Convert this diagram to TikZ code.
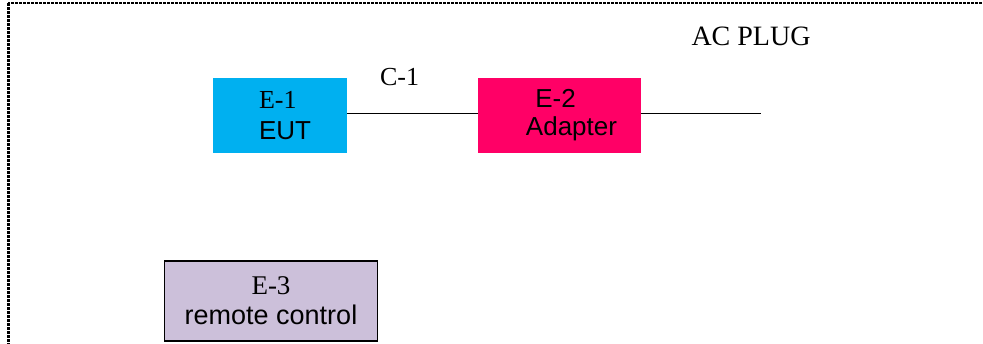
\documentclass[tikz,border=0pt]{standalone}
\usepackage{fontspec}
\setmainfont{Liberation Serif}
\setsansfont{Liberation Sans}
\usepackage{tikz}

\begin{document}
\begin{tikzpicture}[x=1pt,y=-1pt]
    \useasboundingbox (0,0) rectangle (983,343);
    \clip (0,0) rectangle (983,343);
    \begin{scope}[font=\fontsize{26}{31}\selectfont,
                  box/.style={rectangle,inner sep=0pt}]

    \draw [line width=2.5pt, dash pattern=on 2.6pt off 1.4pt] (8.3,3) rectangle (1010,370);

    \node [box, align=left, fill={rgb,255:red,0;green,176;blue,240},
           minimum width=134pt, minimum height=75pt] (eut) at (280,115.5)
          {\hspace*{10pt}E-1\\\hspace*{10pt}{\sffamily EUT}};
    \node [box, align=center, font=\fontsize{26}{28}\selectfont\sffamily,
           fill={rgb,255:red,255;green,0;blue,102},
           minimum width=163pt, minimum height=75pt] (adapter) at (559.5,115.5)
          {\hspace*{-8pt}E-2\\\hspace*{24pt}{\sffamily Adapter}};
    \node [box, align=center, font=\fontsize{27}{30}\selectfont,
           draw, line width=1.3pt, fill={rgb,255:red,204;green,192;blue,218},
           minimum width=213pt, minimum height=80pt] (remote) at (271,301)
          {E-3\\{\sffamily remote control}};

    \coordinate (plug) at (761,113.5);
    \draw [line width=1.3pt] ([yshift=2pt]eut.east) -- ([yshift=2pt]adapter.west);
    \draw [line width=1.3pt] ([yshift=2pt]adapter.east) -- (plug);

    \node (cable) at (399.5,77) {C-1};
    \node [font=\fontsize{28}{30}\selectfont] (acplug) at (751,36) {AC PLUG};
\end{scope}
\end{tikzpicture}
\end{document}
